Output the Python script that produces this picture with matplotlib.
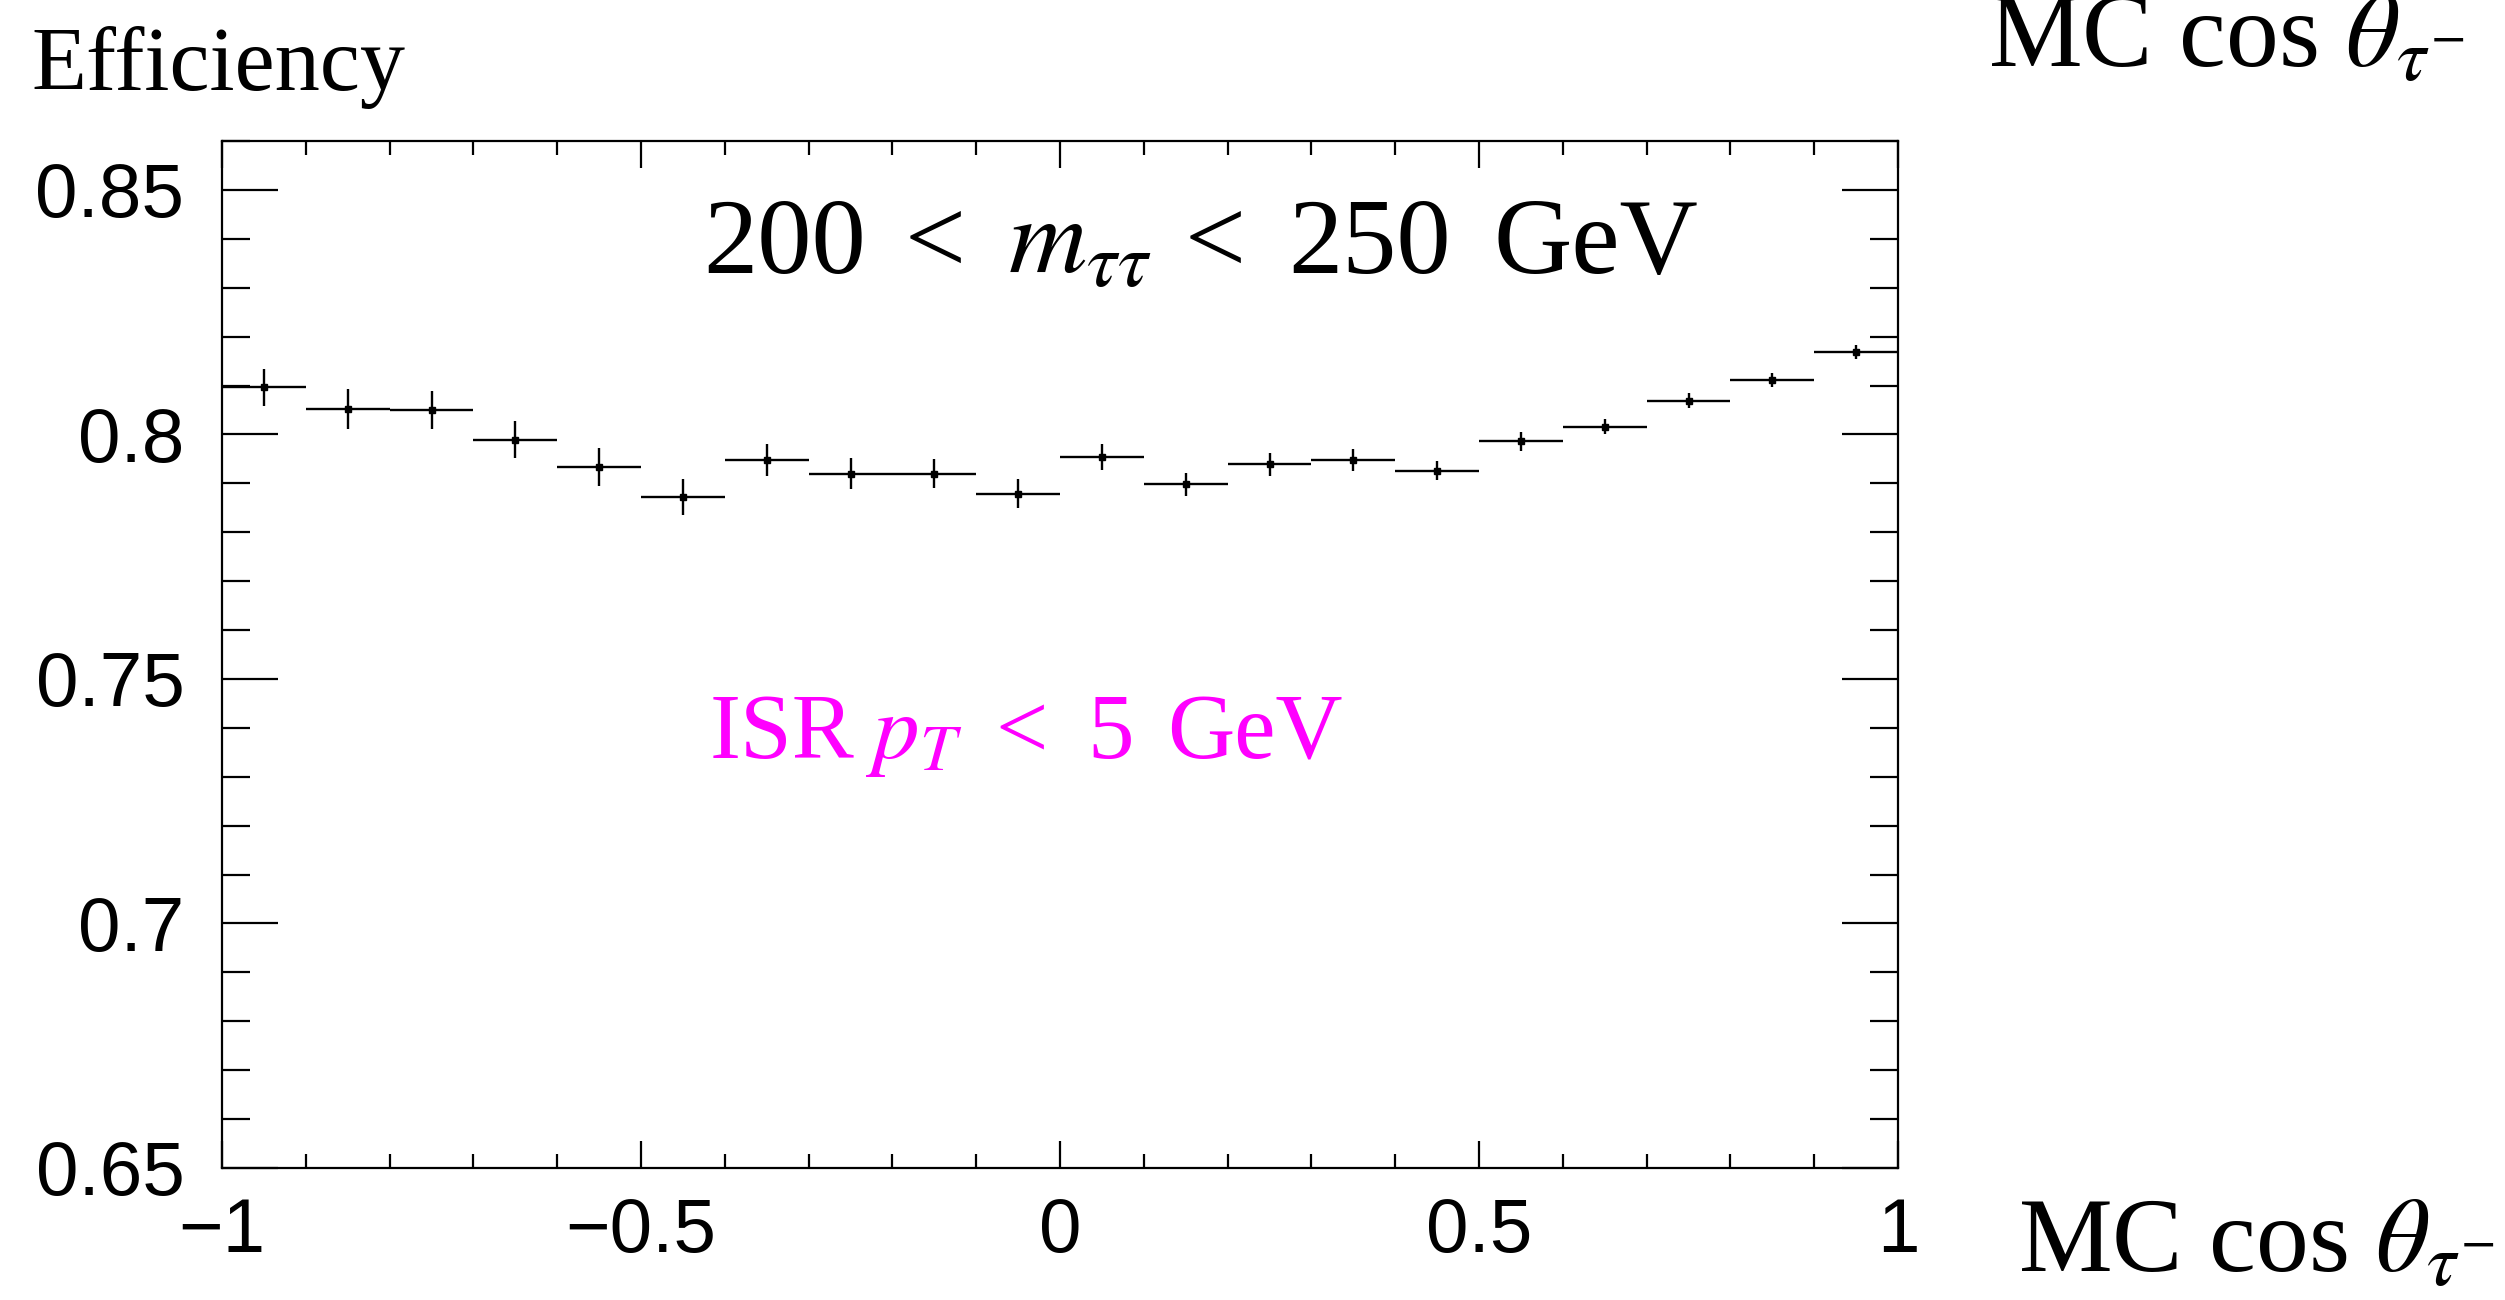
import matplotlib
matplotlib.use("Agg")
import matplotlib.pyplot as plt
from matplotlib.ticker import MultipleLocator, FixedLocator

# ---- data ----
bin_centers = [-0.95, -0.85, -0.75, -0.65, -0.55, -0.45, -0.35, -0.25, -0.15, -0.05,
               0.05, 0.15, 0.25, 0.35, 0.45, 0.55, 0.65, 0.75, 0.85, 0.95]
bin_half_width = [0.05] * 20
efficiency = [0.8096, 0.8052, 0.8050, 0.7989, 0.7934, 0.7872, 0.7948, 0.7920, 0.7920, 0.7879,
              0.7954, 0.7898, 0.7939, 0.7948, 0.7926, 0.7986, 0.8016, 0.8069, 0.8111, 0.8169]
eff_error = [0.0037, 0.0040, 0.0038, 0.0038, 0.0039, 0.0037, 0.0033, 0.0031, 0.0030, 0.0029,
             0.0026, 0.0024, 0.0023, 0.0022, 0.0019, 0.0019, 0.0016, 0.0015, 0.0015, 0.0014]
x_ticks = [-1, -0.5, 0, 0.5, 1]
x_tick_labels = ["\u22121", "\u22120.5", "0", "0.5", "1"]
y_ticks = [0.65, 0.7, 0.75, 0.8, 0.85]
y_tick_labels = ["0.65", "0.7", "0.75", "0.8", "0.85"]

W, H = 2505, 1300
plt.rcParams['mathtext.fontset'] = 'stix'
fig = plt.figure(figsize=(W / 100, H / 100), dpi=100)
ax = fig.add_axes([222 / W, 1 - 1168 / H, (1898 - 222) / W, (1168 - 141) / H])

ax.errorbar(bin_centers, efficiency, xerr=bin_half_width, yerr=eff_error,
            fmt='s', color='black', ms=4, elinewidth=1.7, capsize=0, clip_on=True)

ax.set_xlim(-1, 1)
ax.set_ylim(0.65, 0.86)

ax.xaxis.set_major_locator(FixedLocator(x_ticks))
ax.set_xticklabels(x_tick_labels)
ax.xaxis.set_minor_locator(MultipleLocator(0.1))
ax.yaxis.set_major_locator(FixedLocator(y_ticks))
ax.set_yticklabels(y_tick_labels)
ax.yaxis.set_minor_locator(MultipleLocator(0.01))

for s in ax.spines.values():
    s.set_linewidth(1.6)

ax.tick_params(axis='both', which='both', direction='in', top=True, right=True,
               width=1.6, labelsize=55)
ax.tick_params(axis='x', which='major', length=19.5, pad=21)
ax.tick_params(axis='x', which='minor', length=10)
ax.tick_params(axis='y', which='major', length=40.3, pad=27)
ax.tick_params(axis='y', which='minor', length=20.2)
for lab in ax.get_xticklabels() + ax.get_yticklabels():
    lab.set_family('Liberation Sans')

serif = 'Liberation Serif'


def put(xpx, ypx, s, size, color='black'):
    fig.text(xpx / W, 1 - ypx / H, s, family=serif, fontsize=size,
             ha='left', va='baseline', color=color)


put(31, 90, "Efficiency", 65)

# 200 < m_tautau < 250 GeV
title_parts = ["200", "<", r"$m_{\tau\tau}$", "<", "250", "GeV"]
title_x = [703, 905, 1008, 1185, 1288, 1493]
for xp, s in zip(title_x, title_parts):
    put(xp, 273, s, 78)

# ISR p_T < 5 GeV
isr_parts = ["ISR", r"$p_{T}$", "<", "5", "GeV"]
isr_x = [710, 866, 995, 1087, 1167]
for xp, s in zip(isr_x, isr_parts):
    put(xp, 758, s, 67, color='#ff00ff')

put(2018, 1272, r"MC cos $\theta_{\tau^{-}}$", 76)
put(1988, 67, r"MC cos $\theta_{\tau^{-}}$", 76)

fig.savefig("out.png", dpi=100)
